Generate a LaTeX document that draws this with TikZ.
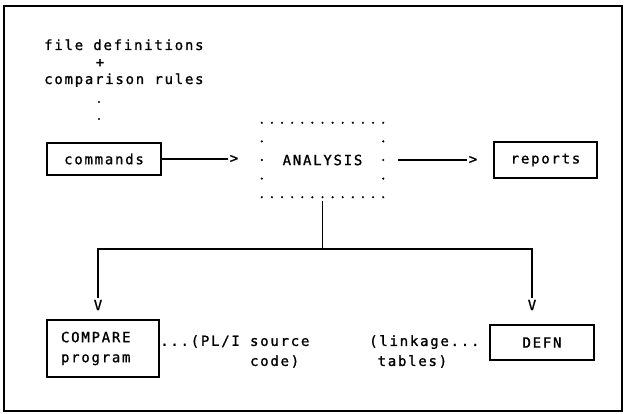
\documentclass[tikz,border=0pt]{standalone}
\usepackage{fontspec}
\newfontfamily\monofnt[LetterSpace=12.5,FakeBold=1.2]{DejaVu Sans Mono}
\usetikzlibrary{calc}
\begin{document}
\begin{tikzpicture}[x=1pt,y=-1pt,
  txt/.style={font=\monofnt\fontsize{14}{20}\selectfont, inner sep=0pt},
  boxnode/.style={txt, draw, line width=1.4pt},
  conn/.style={line width=1.3pt},
  tipglyph/.style={txt, inner sep=1.5pt},
  dot/.style={fill=black},
]
\useasboundingbox (0,0) rectangle (628,414);
\draw[line width=2.5pt] (4,6) rectangle (622,411);

% top texts
\node[txt, anchor=base west] (fd) at (44,50) {file definitions};
\node[txt] (plus) at (100,63) {+};
\node[txt, anchor=base west] (cr) at (44,84) {comparison rules};
\fill[dot] (99,102) circle[radius=1.2pt];
\fill[dot] (99,119) circle[radius=1.2pt];

% boxes
\node[boxnode, minimum width=114pt, minimum height=32pt] (cmd) at (104,159) {commands};
\node[txt, minimum width=121pt, minimum height=74pt] (an) at (322.5,160) {ANALYSIS};
\node[boxnode, minimum width=103pt, minimum height=36pt] (rep) at (545.5,160) {reports};
\node[boxnode, inner xsep=14pt, text width=84pt, align=left, minimum height=57pt] (cmp) at (103,348.5) {COMPARE\\program};
\node[boxnode, minimum width=104pt, minimum height=35pt] (defn) at (542,342.5) {DEFN};

% side texts
\node[txt, anchor=west, align=left] (pli) at (160,351.5) {...(PL/I source\\\hphantom{...(PL/I }code)};
\node[txt, anchor=west, align=left] (link) at (369,351.5) {(linkage...\\\hphantom{(}tables)};

% dotted ANALYSIS frame
\foreach \i in {0,...,12} {
  \fill[dot] ($(an.north west)!\i/12!(an.north east)$) circle[radius=1.2pt];
  \fill[dot] ($(an.south west)!\i/12!(an.south east)$) circle[radius=1.2pt];
}
\foreach \i in {1,2,3} {
  \fill[dot] ($(an.north west)!\i/4!(an.south west)$) circle[radius=1.2pt];
  \fill[dot] ($(an.north east)!\i/4!(an.south east)$) circle[radius=1.2pt];
}

% arrow glyphs
\node[tipglyph, anchor=east] (g1) at (240,159) {>};
\node[tipglyph, anchor=east] (g2) at (479,160) {>};
\node[tipglyph] (v1) at (98,305) {V};
\node[tipglyph] (v2) at (532,305) {V};
\coordinate (j) at (322,249);

% connectors
\draw[conn] (cmd.east) -- (g1.west);
\draw[conn] ([xshift=15pt]an.east) -- (g2.west);
\draw[conn] ([yshift=-4pt]an.south) -- (an.south |- j);
\draw[conn] (v1.north) -- (v1.north |- j) -- (v2.north |- j) -- (v2.north);
\end{tikzpicture}
\end{document}
